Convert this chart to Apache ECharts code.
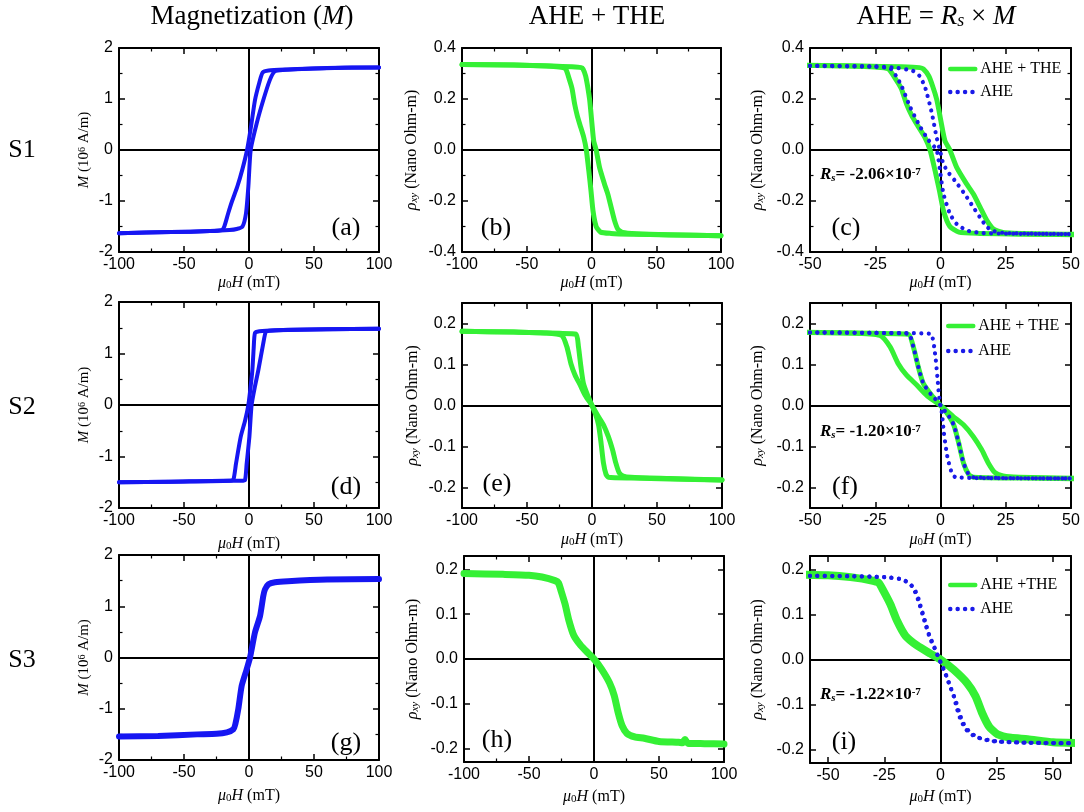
<!DOCTYPE html>
<html>
<head>
<meta charset="utf-8">
<script src="https://cdn.jsdelivr.net/npm/echarts@6/dist/echarts.min.js"></script>
<style>
  html, body { margin: 0; padding: 0; background: #fff; }
  #chart { width: 1084px; height: 812px; }
</style>
</head>
<body>
<div id="chart"></div>
<script>
// ---------- measured curves ----------
// S1 magnetization loop (10^6 A/m vs mT)
const fieldM1Down = [100, 60, 30, 15, 10.5, 8, 4.6, 1.5, -1.5, -5, -9, -13, -16, -19, -21, -30, -60, -100];
const magM1Down   = [1.62, 1.61, 1.58, 1.56, 1.52, 1.33, 0.98, 0.45, 0, -0.37, -0.72, -1.0, -1.24, -1.5, -1.57, -1.59, -1.61, -1.63];
const fieldM1Up   = [-100, -60, -30, -15, -9.5, -5, -2.3, -0.5, 1.3, 5.9, 11, 16, 19.7, 26, 50, 100];
const magM1Up     = [-1.63, -1.61, -1.59, -1.57, -1.55, -1.5, -1.24, -0.72, 0, 0.52, 0.98, 1.37, 1.54, 1.57, 1.60, 1.62];

// S1 Hall resistivity, AHE + THE (nano ohm-m)
const fieldR1A = [-100, -60, -35, -25, -20, -17, -15, -13, -11, -9, -6, -4, -2.1, -0.4, 1.2, 3.6, 7, 15, 30, 60, 100];
const rhoR1A   = [0.335, 0.333, 0.329, 0.325, 0.318, 0.275, 0.24, 0.18, 0.135, 0.10, 0.05, 0.0, -0.08, -0.16, -0.24, -0.30, -0.322, -0.327, -0.33, -0.333, -0.336];
const fieldR1B = [-100, -60, -30, -15, -8, -6.6, -4.5, -3, -1.5, -0.5, 0.4, 1.7, 3.6, 6.2, 10, 12.6, 15.2, 17.8, 20.3, 24, 35, 60, 100];
const rhoR1B   = [0.335, 0.333, 0.329, 0.326, 0.323, 0.318, 0.29, 0.25, 0.2, 0.15, 0.10, 0.036, 0.0, -0.068, -0.133, -0.173, -0.225, -0.277, -0.31, -0.323, -0.328, -0.332, -0.336];
// S1 anomalous part, AHE
const fieldA1A = [-50, -35, -25, -19.3, -17, -14.9, -11.7, -7.9, -4.7, -1.5, -0.2, 1.1, 3.6, 6.2, 10, 15, 25, 50];
const rhoA1A   = [0.33, 0.328, 0.326, 0.32, 0.29, 0.25, 0.17, 0.093, 0.04, 0.0, -0.08, -0.17, -0.25, -0.29, -0.315, -0.325, -0.328, -0.33];
const fieldA1B = [-50, -25, -16.8, -10.5, -8, -5.9, -3.4, -1.5, 0, 1.1, 3, 5.5, 9.3, 12.6, 15.2, 17.8, 20.3, 25, 50];
const rhoA1B   = [0.33, 0.328, 0.322, 0.31, 0.29, 0.246, 0.148, 0.05, -0.01, -0.055, -0.088, -0.12, -0.173, -0.225, -0.265, -0.302, -0.318, -0.326, -0.33];

// S2 magnetization loop
const fieldM2Down = [100, 60, 20, 8, 4.6, 3.6, 2.6, 1, -0.5, -3, -6.4, -10, -12, -15, -30, -60, -100];
const magM2Down   = [1.48, 1.47, 1.45, 1.43, 1.40, 1.1, 0.68, 0.3, 0, -0.3, -0.62, -1.14, -1.45, -1.47, -1.48, -1.49, -1.50];
const fieldM2Up   = [-100, -60, -20, -6, -3.1, -1.8, 0.3, 2, 4.5, 7.2, 11, 12.9, 16, 30, 60, 100];
const magM2Up     = [-1.50, -1.49, -1.47, -1.47, -1.46, -1.14, -0.62, 0, 0.35, 0.68, 1.2, 1.42, 1.44, 1.46, 1.47, 1.48];

// S2 Hall resistivity, AHE + THE
const fieldR2A = [-100, -60, -35, -23.2, -19.3, -16.2, -13, -9.1, -5.3, 0, 4.9, 8.8, 12.6, 15.8, 18.3, 20.9, 24, 30, 60, 100];
const rhoR2A   = [0.181, 0.179, 0.177, 0.171, 0.143, 0.102, 0.074, 0.05, 0.025, 0, -0.027, -0.047, -0.076, -0.108, -0.14, -0.164, -0.172, -0.175, -0.178, -0.182];
const fieldR2B = [-100, -60, -25, -12.3, -10.4, -8.5, -6.6, -3.4, 0, 2.6, 5.1, 7, 8.8, 10.8, 12.6, 30, 60, 100];
const rhoR2B   = [0.181, 0.179, 0.176, 0.174, 0.143, 0.094, 0.054, 0.025, 0, -0.02, -0.048, -0.092, -0.14, -0.168, -0.175, -0.177, -0.179, -0.182];
// S2 anomalous part, AHE
const fieldA2A = [-50, -25, -12.3, -10.4, -8.5, -6.6, -3.4, 0, 1.3, 2.6, 4.5, 5.8, 15, 50];
const rhoA2A   = [0.178, 0.177, 0.175, 0.143, 0.094, 0.054, 0.025, 0, -0.067, -0.124, -0.168, -0.175, -0.177, -0.178];
const fieldA2B = [-50, -25, -4, -2.1, -1.2, 0, 2.6, 5.1, 7, 8.8, 10.8, 12.6, 25, 50];
const rhoA2B   = [0.178, 0.177, 0.175, 0.127, 0.07, 0, -0.02, -0.048, -0.092, -0.14, -0.168, -0.175, -0.177, -0.178];

// S3 magnetization
const fieldM3 = [-100, -70, -40, -25, -17, -12, -10.5, -8.2, -5.6, -1.8, 0.8, 4.6, 8.5, 11, 12.3, 15, 20, 30, 60, 100];
const magM3   = [-1.54, -1.53, -1.50, -1.49, -1.46, -1.40, -1.3, -1.0, -0.55, -0.23, 0, 0.49, 0.81, 1.2, 1.33, 1.43, 1.47, 1.49, 1.52, 1.53];

// S3 Hall resistivity, AHE + THE
const fieldR3 = [-100, -70, -50, -40, -30, -27.4, -25.3, -22.3, -19.3, -15.6, -10.4, -4.5, 0, 5.9, 11.9, 15.6, 18.6, 21.6, 25.3, 31.3, 38.7, 50, 65, 68, 70, 72, 85, 100];
const rhoR3   = [0.191, 0.189, 0.187, 0.183, 0.175, 0.17, 0.152, 0.123, 0.086, 0.053, 0.031, 0.013, 0, -0.023, -0.053, -0.082, -0.12, -0.149, -0.166, -0.174, -0.177, -0.184, -0.186, -0.187, -0.18, -0.188, -0.189, -0.19];
// S3 anomalous part, AHE
const fieldA3A = [-58, -40, -30, -22.3, -16.4, -12.6, -10.4, -8.9, -6.7, -5.2, -3, -0.7, 1.5, 3.7, 5.9, 7.4, 8.9, 11.2, 14.9, 22.3, 37.2, 58];
const rhoA3A   = [0.186, 0.185, 0.184, 0.182, 0.177, 0.163, 0.145, 0.12, 0.083, 0.057, 0.031, 0.002, -0.023, -0.053, -0.082, -0.111, -0.133, -0.155, -0.17, -0.181, -0.185, -0.186];
const fieldA3B = [-58, -40, -25, -18, -13.5, -11.5, -9.8, -8, -6.5, -4.5, -2.2, 0.2, 2.6, 4.8, 6.9, 8.6, 10.2, 12.8, 17, 25, 40, 58];
const rhoA3B   = [0.186, 0.185, 0.183, 0.179, 0.168, 0.152, 0.13, 0.1, 0.075, 0.045, 0.02, -0.008, -0.036, -0.066, -0.094, -0.122, -0.142, -0.16, -0.174, -0.182, -0.185, -0.186];

// ---------- tick labels ----------
const ticksField50 = [-50, -25, 0, 25, 50];
const ticksRho02   = [-0.2, -0.1, 0, 0.1, 0.2];

// ---------- text ----------
const columnTitles = ['Magnetization ({i|M})', 'AHE + THE', 'AHE = {i|R}{si|s} × {i|M}'];
const rowLabels = ['S1', 'S2', 'S3'];
const panelLetters = ['(a)', '(b)', '(c)', '(d)', '(e)', '(f)', '(g)', '(h)', '(i)'];
const rsLabels = ['-2.06', '-1.20', '-1.22'];

// ---------- styling ----------
const SERIF = '"Liberation Serif", "Times New Roman", serif';
const SANS = '"Liberation Sans", Arial, sans-serif';
const BLUE = '#1616f2';
const GREEN = '#35f035';
const DOTBLUE = '#1a1ae8';

const pts = (h, v) => h.map((x, i) => [x, v[i]]);

function rich(size, weight) {
  const sub = Math.round(size * 0.66);
  const base = { fontFamily: SERIF, fontWeight: weight || 'normal', fill: '#000', color: '#000' };
  return {
    i:  Object.assign({}, base, { fontSize: size, fontStyle: 'italic' }),
    si: Object.assign({}, base, { fontSize: sub, fontStyle: 'italic', verticalAlign: 'bottom' }),
    s:  Object.assign({}, base, { fontSize: sub, verticalAlign: 'bottom' }),
    p:  Object.assign({}, base, { fontSize: sub, verticalAlign: 'top' })
  };
}

const solid = (name, data, color, width) => ({ name, data, color, width });
const dotted = (name, data) => ({ name, data, color: DOTBLUE, width: 4.2, dash: [0.01, 7.4] });

const M_NAME = '{i|M} (10{p|6} A/m)';
const RHO_NAME = '{i|ρ}{si|xy} (Nano Ohm-m)';
const H_NAME = '{i|μ}{s|0}{i|H} (mT)';

const panels = [
  { grid: { left: 119, top: 48, width: 260, height: 204 }, x: { min: -100, max: 100, interval: 50 }, y: { min: -2, max: 2, interval: 1, dec: 0 },
    yName: M_NAME, yNameSize: 15, yGap: 27, xGap: 23,
    series: [solid('M', pts(fieldM1Down, magM1Down), BLUE, 4), solid('M', pts(fieldM1Up, magM1Up), BLUE, 4)] },
  { grid: { left: 462, top: 48, width: 259, height: 204 }, x: { min: -100, max: 100, interval: 50 }, y: { min: -0.4, max: 0.4, interval: 0.2, dec: 1 },
    yName: RHO_NAME, yNameSize: 16, yGap: 42, xGap: 23,
    series: [solid('AHE + THE', pts(fieldR1A, rhoR1A), GREEN, 5), solid('AHE + THE', pts(fieldR1B, rhoR1B), GREEN, 5)] },
  { grid: { left: 810, top: 48, width: 261, height: 204 }, x: { min: -50, max: 50, interval: 25 }, y: { min: -0.4, max: 0.4, interval: 0.2, dec: 1 },
    yName: RHO_NAME, yNameSize: 16, yGap: 44, xGap: 23,
    series: [solid('AHE + THE', pts(fieldR1A, rhoR1A), GREEN, 5), solid('AHE + THE', pts(fieldR1B, rhoR1B), GREEN, 5),
             dotted('AHE', pts(fieldA1A, rhoA1A)), dotted('AHE', pts(fieldA1B, rhoA1B))] },

  { grid: { left: 119, top: 302, width: 260, height: 206 }, x: { min: -100, max: 100, interval: 50 }, y: { min: -2, max: 2, interval: 1, dec: 0 },
    yName: M_NAME, yNameSize: 15, yGap: 27, xGap: 28,
    series: [solid('M', pts(fieldM2Down, magM2Down), BLUE, 4), solid('M', pts(fieldM2Up, magM2Up), BLUE, 4)] },
  { grid: { left: 462, top: 303, width: 260, height: 205 }, x: { min: -100, max: 100, interval: 50 }, y: { min: -0.25, max: 0.25, custom: ticksRho02, dec: 1 },
    yName: RHO_NAME, yNameSize: 16, yGap: 41, xGap: 24,
    series: [solid('AHE + THE', pts(fieldR2A, rhoR2A), GREEN, 5), solid('AHE + THE', pts(fieldR2B, rhoR2B), GREEN, 5)] },
  { grid: { left: 810, top: 303, width: 261, height: 205 }, x: { min: -50, max: 50, interval: 25 }, y: { min: -0.25, max: 0.25, custom: ticksRho02, dec: 1 },
    yName: RHO_NAME, yNameSize: 16, yGap: 44, xGap: 24,
    series: [solid('AHE + THE', pts(fieldR2A, rhoR2A), GREEN, 5), solid('AHE + THE', pts(fieldR2B, rhoR2B), GREEN, 5),
             dotted('AHE', pts(fieldA2A, rhoA2A)), dotted('AHE', pts(fieldA2B, rhoA2B))] },

  { grid: { left: 119, top: 555, width: 260, height: 205 }, x: { min: -100, max: 100, interval: 50 }, y: { min: -2, max: 2, interval: 1, dec: 0 },
    yName: M_NAME, yNameSize: 15, yGap: 27, xGap: 28,
    series: [solid('M', pts(fieldM3, magM3), BLUE, 6)] },
  { grid: { left: 464, top: 556, width: 260, height: 206 }, x: { min: -100, max: 100, interval: 50 }, y: { min: -0.23, max: 0.23, custom: ticksRho02, dec: 1 },
    yName: RHO_NAME, yNameSize: 16, yGap: 43, xGap: 27,
    series: [solid('AHE + THE', pts(fieldR3, rhoR3), GREEN, 7)] },
  { grid: { left: 810, top: 556, width: 261, height: 207 }, x: { min: -58, max: 58, custom: ticksField50 }, y: { min: -0.23, max: 0.23, custom: ticksRho02, dec: 1 },
    yName: RHO_NAME, yNameSize: 16, yGap: 44, xGap: 26,
    series: [solid('AHE +THE', pts(fieldR3, rhoR3), GREEN, 8),
             dotted('AHE', pts(fieldA3A, rhoA3A)), dotted('AHE', pts(fieldA3B, rhoA3B))] }
];

const tickStyle = { color: '#000', width: 1.5 };

// each panel is framed by four axes: bottom/left carry labels, top/right only ticks
function valueAxis(gi, spec, position, withLabels, dim, fmt) {
  const ax = {
    gridIndex: gi, type: 'value', position: position,
    min: spec.min, max: spec.max,
    axisLine: { show: true, onZero: false, lineStyle: { color: '#000', width: 2 } },
    splitLine: { show: false },
    axisTick: { show: true, inside: true, length: 6, lineStyle: tickStyle },
    minorTick: { show: !spec.custom, splitNumber: 2, length: 3.5, lineStyle: { color: '#000', width: 1.2 } },
    axisLabel: {
      show: withLabels, inside: false, margin: dim === 'x' ? 5 : 6,
      fontFamily: SANS, fontSize: 16, color: '#000',
      showMinLabel: true, showMaxLabel: true, hideOverlap: false,
      formatter: fmt
    }
  };
  if (spec.custom) {
    ax.axisTick.customValues = spec.custom;
    ax.axisLabel.customValues = spec.custom;
  } else {
    ax.interval = spec.interval;
    ax.axisLabel.interval = 0;
  }
  return ax;
}

const fmtInt = v => String(Math.round(v));
const fmtDec = d => v => (Math.abs(v) < 1e-9 ? 0 : v).toFixed(d);

const grids = [], xAxes = [], yAxes = [], series = [];

panels.forEach((p, gi) => {
  grids.push(Object.assign({ show: false }, p.grid));

  const xi = xAxes.length;
  const xb = valueAxis(gi, p.x, 'bottom', true, 'x', fmtInt);
  xb.name = H_NAME;
  xb.nameLocation = 'middle';
  xb.nameGap = p.xGap;
  xb.nameTextStyle = { fontFamily: SERIF, fontSize: 16, color: '#000', rich: rich(16) };
  xAxes.push(xb, valueAxis(gi, p.x, 'top', false, 'x', fmtInt));

  const yi = yAxes.length;
  const yl = valueAxis(gi, p.y, 'left', true, 'y', p.y.dec ? fmtDec(p.y.dec) : fmtInt);
  yl.name = p.yName;
  yl.nameLocation = 'middle';
  yl.nameGap = p.yGap;
  yl.nameTextStyle = { fontFamily: SERIF, fontSize: p.yNameSize, color: '#000', rich: rich(p.yNameSize) };
  yAxes.push(yl, valueAxis(gi, p.y, 'right', false, 'y', fmtInt));

  p.series.forEach((s, k) => {
    const ser = {
      type: 'line', name: s.name, xAxisIndex: xi, yAxisIndex: yi,
      data: s.data, symbol: 'none', showSymbol: false,
      smooth: 0.2, clip: true, z: 2, silent: true,
      color: s.color,
      lineStyle: { color: s.color, width: s.width, type: s.dash || 'solid', cap: 'round', join: 'round' },
      emphasis: { disabled: true }
    };
    if (k === 0) {
      ser.markLine = {
        silent: true, z: 1, animation: false,
        symbol: ['none', 'none'],
        label: { show: false },
        emphasis: { disabled: true },
        lineStyle: { color: '#000', width: 2, type: 'solid' },
        data: [{ xAxis: 0 }, { yAxis: 0 }]
      };
    }
    series.push(ser);
  });
});

// legends inside the right-hand column (line samples only)
function legendAt(names, left, top, gap) {
  return {
    data: names, orient: 'vertical', left: left, top: top, padding: 0,
    itemWidth: 25, itemHeight: 14, itemGap: gap, selectedMode: false,
    itemStyle: { opacity: 0 },
    lineStyle: { width: 4.5 },
    textStyle: { fontFamily: SERIF, fontSize: 16, color: '#000' }
  };
}
const legends = [
  legendAt(['AHE + THE', 'AHE'], 948, 61, 7),
  legendAt(['AHE + THE', 'AHE'], 946, 318, 9),
  legendAt(['AHE +THE', 'AHE'], 948, 577, 8)
];

// free text: column titles, row labels, panel letters, R_s values
const graphics = [];
function addText(x, y, text, size, opts) {
  opts = opts || {};
  graphics.push({
    type: 'text', x: x, y: y, silent: true, z: 10,
    style: {
      text: text, fontFamily: SERIF, fontSize: size, fontWeight: opts.weight || 'normal',
      fill: '#000', align: opts.align || 'center', verticalAlign: 'middle',
      rich: rich(size, opts.weight)
    }
  });
}
const titleX = [252, 597, 936];
columnTitles.forEach((t, i) => addText(titleX[i], 17, t, 27));
const rowY = [150, 407, 660];
rowLabels.forEach((t, i) => addText(22, rowY[i], t, 26));
const letterPos = [[346, 228], [496, 228], [846, 228], [346, 487], [497, 484], [845, 487], [346, 743], [497, 740], [844, 742]];
panelLetters.forEach((t, i) => addText(letterPos[i][0], letterPos[i][1], t, 26));
const rsY = [175, 432, 695];
rsLabels.forEach((v, i) => addText(820, rsY[i], '{i|R}{si|s}= ' + v + '×10{p|-7}', 17, { align: 'left', weight: 'bold' }));

const chart = echarts.init(document.getElementById('chart'), null, { renderer: 'canvas' });
chart.setOption({
  animation: false,
  backgroundColor: '#fff',
  grid: grids,
  xAxis: xAxes,
  yAxis: yAxes,
  legend: legends,
  series: series,
  graphic: { elements: graphics }
});
</script>
</body>
</html>
